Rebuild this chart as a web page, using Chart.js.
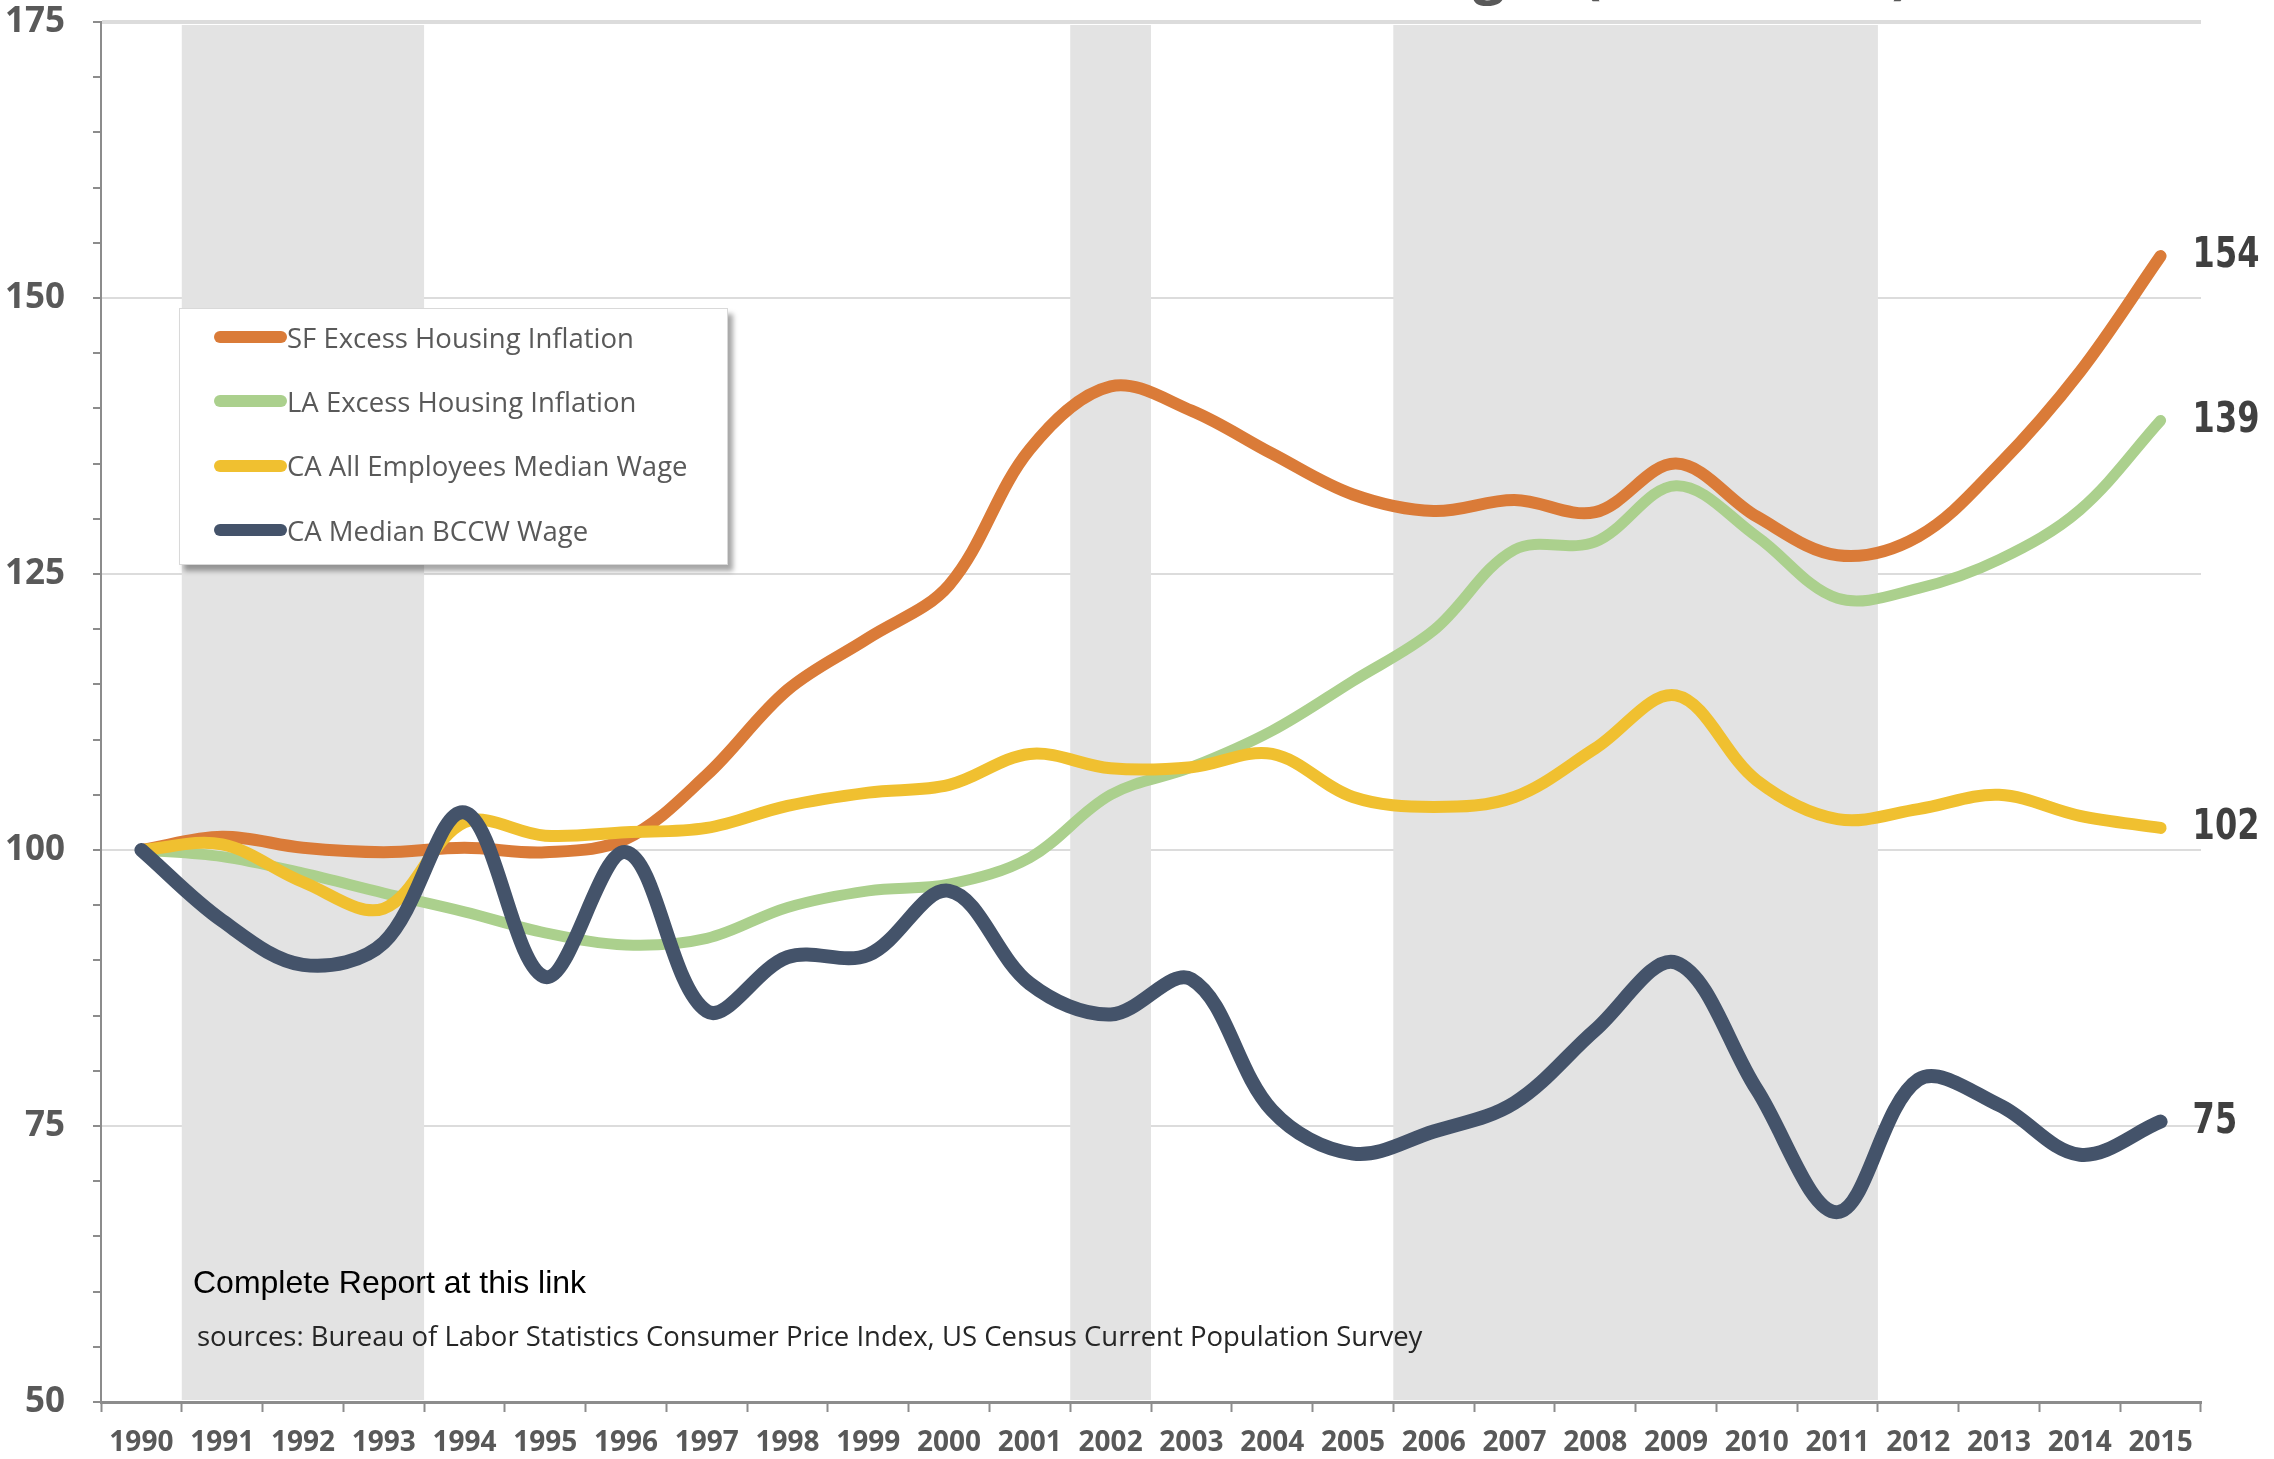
<!DOCTYPE html>
<html>
<head>
<meta charset="utf-8">
<title>Excess Housing Inflation vs. Wages</title>
<script src="https://cdn.jsdelivr.net/npm/chart.js@4.4.1/dist/chart.umd.min.js"></script>
<style>
  html, body { margin: 0; padding: 0; background: #fff; }
  #wrap { position: relative; width: 2274px; height: 1459px; overflow: hidden; }
  #chart { position: absolute; left: 0; top: 0; }
  .title {
    position: absolute; right: 363px; bottom: 1450px; text-align: right; line-height: 68px;
    font: bold 57px "Open Sans", sans-serif; color: #595959; white-space: nowrap;
  }
  .legend {
    position: absolute; left: 179px; top: 308px; width: 549px; height: 257px;
    box-sizing: border-box; background: #fff; border: 1px solid #d9d9d9;
    box-shadow: 5px 6px 5px rgba(0, 0, 0, 0.35); padding-top: 8px;
  }
  .legend-item {
    display: flex; align-items: center; height: 40px; margin-bottom: 24.4px;
    padding-left: 34px; font: 27.5px "Open Sans", sans-serif; color: #595959; white-space: nowrap;
  }
  .swatch { display: inline-block; width: 73px; height: 12px; border-radius: 6px; }
  .note { position: absolute; white-space: nowrap; }
  #report { left: 193px; top: 1266px; font: 32px/32px "Liberation Sans", Arial, sans-serif; color: #000; }
  #sources { left: 197px; top: 1322px; font: 27.5px/28px "Open Sans", sans-serif; color: #262626; }
</style>
</head>
<body>
<div id="wrap">
  <canvas id="chart" width="2274" height="1459"></canvas>
  <div class="title">Excess Housing Inflation vs.<br>Construction Worker Wages (1990 = 100)</div>
  <div class="legend" id="legend"></div>
  <div class="note" id="report">Complete Report at this link</div>
  <div class="note" id="sources">sources: Bureau of Labor Statistics Consumer Price Index, US Census Current Population Survey</div>
</div>
<script>
const YEARS = [
  "1990", "1991", "1992", "1993", "1994", "1995", "1996", "1997", "1998", "1999",
  "2000", "2001", "2002", "2003", "2004", "2005", "2006", "2007", "2008", "2009",
  "2010", "2011", "2012", "2013", "2014", "2015",
];

const SF_HOUSING = [
  100, 101.2, 100.2, 99.8, 100.2, 99.8, 101, 106.8, 114.5, 119.2,
  124, 136.3, 142, 139.8, 135.9, 132.2, 130.7, 131.7, 130.6, 135,
  130.2, 126.7, 128.4, 134.9, 143.3, 153.8,
];

const LA_HOUSING = [
  100, 99.4, 97.9, 96.1, 94.4, 92.5, 91.4, 92, 94.8, 96.3,
  96.9, 99.3, 105, 107.5, 110.8, 115.3, 119.9, 127.2, 127.9, 133,
  128.4, 122.8, 123.7, 126.3, 130.8, 138.9,
];

const CA_ALL_WAGE = [
  100, 100.5, 97.1, 94.7, 102.5, 101.3, 101.6, 102, 104, 105.2,
  105.9, 108.7, 107.4, 107.5, 108.7, 104.8, 103.9, 104.8, 109.2, 114,
  106.3, 102.8, 103.7, 105, 103.1, 102,
];

const CA_BCCW_WAGE = [
  100, 93.6, 89.6, 91.6, 103.4, 88.5, 99.8, 85.4, 90.3, 90.5,
  96.3, 87.9, 85.1, 88.3, 76.4, 72.5, 74.5, 77.1, 83.7, 89.8,
  78.3, 67.2, 79.2, 76.9, 72.4, 75.4,
];

const RECESSIONS = [
  ["1991", "1993"],
  ["2002", "2002"],
  ["2006", "2011"],
];

const AXIS_GRAY = "#8c8c8c";
const TEXT_GRAY = "#595959";

const datasets = [
  { label: "SF Excess Housing Inflation", data: SF_HOUSING, borderColor: "#da7b38", borderWidth: 12, order: 2 },
  { label: "LA Excess Housing Inflation", data: LA_HOUSING, borderColor: "#abd08d", borderWidth: 11, order: 3 },
  { label: "CA All Employees Median Wage", data: CA_ALL_WAGE, borderColor: "#f0c030", borderWidth: 12, order: 1 },
  { label: "CA Median BCCW Wage", data: CA_BCCW_WAGE, borderColor: "#44536a", borderWidth: 14, order: 0 },
];

// grey bands behind the lines, one category wide per year
const recessionBands = {
  id: "recessionBands",
  beforeDatasetsDraw(chart) {
    const { ctx, chartArea, scales } = chart;
    const x = scales.x;
    const half = (x.getPixelForValue(1) - x.getPixelForValue(0)) / 2;
    ctx.save();
    ctx.fillStyle = "#e3e3e3";
    RECESSIONS.forEach(([from, to]) => {
      const left = x.getPixelForValue(YEARS.indexOf(from)) - half;
      const right = x.getPixelForValue(YEARS.indexOf(to)) + half;
      ctx.fillRect(left, chartArea.top + 3, right - left, chartArea.bottom - chartArea.top - 5);
    });
    ctx.restore();
  },
};

// last value written next to the end of each line
const endLabels = {
  id: "endLabels",
  afterDatasetsDraw(chart) {
    const { ctx } = chart;
    ctx.save();
    ctx.font = "bold 32px 'DejaVu Sans', sans-serif";
    ctx.fillStyle = "#404040";
    ctx.textBaseline = "middle";
    chart.data.datasets.forEach((ds, i) => {
      const points = chart.getDatasetMeta(i).data;
      const last = points[points.length - 1];
      ctx.save();
      ctx.translate(last.x + 32, last.y);
      ctx.scale(1, 1.35);
      ctx.fillText(String(Math.round(ds.data[ds.data.length - 1])), 0, 0);
      ctx.restore();
    });
    ctx.restore();
  },
};

function renderLegend() {
  const legend = document.getElementById("legend");
  datasets.forEach((ds) => {
    const row = document.createElement("div");
    row.className = "legend-item";
    const swatch = document.createElement("span");
    swatch.className = "swatch";
    swatch.style.background = ds.borderColor;
    row.appendChild(swatch);
    row.appendChild(document.createTextNode(ds.label));
    legend.appendChild(row);
  });
}

new Chart(document.getElementById("chart"), {
  type: "line",
  data: {
    labels: YEARS,
    datasets: datasets.map((ds) => ({
      ...ds,
      fill: false,
      tension: 0.35,
      pointRadius: 0,
      borderCapStyle: "round",
      borderJoinStyle: "round",
    })),
  },
  options: {
    responsive: false,
    animation: false,
    devicePixelRatio: 1,
    layout: { padding: { left: 0, top: 22, right: 73, bottom: 0 } },
    plugins: {
      legend: { display: false },
      tooltip: { enabled: false },
    },
    scales: {
      x: {
        type: "category",
        offset: true,
        afterFit: (scale) => { scale.height = 57; },
        border: { color: AXIS_GRAY, width: 3 },
        grid: {
          offset: true,
          drawOnChartArea: false,
          tickColor: AXIS_GRAY,
          tickLength: 10,
          tickWidth: 2,
        },
        ticks: {
          autoSkip: false,
          maxRotation: 0,
          padding: 14,
          color: TEXT_GRAY,
          font: { family: "'Open Sans', sans-serif", size: 28, weight: "bold" },
        },
      },
      y: {
        min: 50,
        max: 175,
        afterFit: (scale) => {
          scale.width = 101;
          // labels sit beside the axis, they must not push the plot down
          scale.paddingTop = 0;
          scale.paddingBottom = 0;
        },
        border: { color: AXIS_GRAY, width: 2 },
        grid: {
          color: (c) => (c.tick && c.tick.value % 25 === 0 && c.tick.value !== 50 ? "#dcdcdc" : "rgba(0,0,0,0)"),
          lineWidth: (c) => (c.tick && c.tick.value === 175 ? 4 : 2),
          tickColor: AXIS_GRAY,
          tickLength: 8,
          tickWidth: 2,
        },
        ticks: {
          stepSize: 5,
          autoSkip: false,
          padding: 28,
          color: TEXT_GRAY,
          font: { family: "'Open Sans', sans-serif", size: 35, weight: "bold" },
          callback: (v) => (v % 25 === 0 ? v : ""),
        },
      },
    },
  },
  plugins: [recessionBands, endLabels],
});

renderLegend();
</script>
</body>
</html>
